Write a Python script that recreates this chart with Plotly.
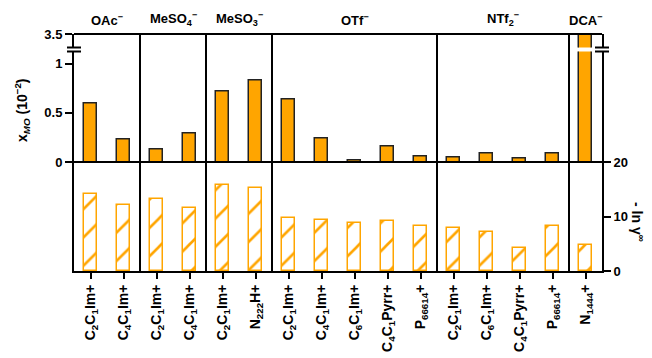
import plotly.graph_objects as go
import numpy as np

# ---- data ----
anions = ["OAc<sup>−</sup>", "MeSO<sub>4</sub><sup>−</sup>", "MeSO<sub>3</sub><sup>−</sup>",
          "OTf<sup>−</sup>", "NTf<sub>2</sub><sup>−</sup>", "DCA<sup>−</sup>"]
group_sizes = [2, 2, 2, 5, 4, 1]
cations = ["C<sub>2</sub>C<sub>1</sub>Im+", "C<sub>4</sub>C<sub>1</sub>Im+",
           "C<sub>2</sub>C<sub>1</sub>Im+", "C<sub>4</sub>C<sub>1</sub>Im+",
           "C<sub>2</sub>C<sub>1</sub>Im+", "N<sub>222</sub>H+",
           "C<sub>2</sub>C<sub>1</sub>Im+", "C<sub>4</sub>C<sub>1</sub>Im+",
           "C<sub>6</sub>C<sub>1</sub>Im+", "C<sub>4</sub>C<sub>1</sub>Pyrr+",
           "P<sub>66614</sub>+",
           "C<sub>2</sub>C<sub>1</sub>Im+", "C<sub>6</sub>C<sub>1</sub>Im+",
           "C<sub>4</sub>C<sub>1</sub>Pyrr+", "P<sub>66614</sub>+",
           "N<sub>1444</sub>+"]
x_mo = [0.59, 0.23, 0.125, 0.29, 0.72, 0.83, 0.64, 0.24, 0.015, 0.155, 0.055,
        0.045, 0.09, 0.04, 0.09, 3.5]
ln_gamma_inf = [14.1, 12.2, 13.2, 11.5, 15.7, 15.2, 9.7, 9.3, 8.8, 9.2, 8.3,
                7.95, 7.2, 4.2, 8.2, 4.8]
left_ticks = [0, 0.5, 1]
break_tick = [3.5]
right_ticks = [0, 10, 20]

# ---- style ----
ORANGE = "#FFA500"
FONT = "Arial, Liberation Sans, sans-serif"
W, H = 652, 358
OFF = 8  # page body offset
L, T = 74 - OFF, 34 - OFF
R = W - (602 - OFF)
B = H - (271 - OFF)
plot_h = H - T - B
plot_w = W - L - R
y_mid = 162 - OFF
bottom_px = 271 - OFF
d0 = (bottom_px - y_mid) / plot_h          # bottom panel top
gap_lo, gap_hi = 51.5 - OFF, 47.5 - OFF    # break gap in pixels
d1 = (bottom_px - gap_lo) / plot_h
d2 = (bottom_px - gap_hi) / plot_h
px_per_unit = 98.4
r2_top = (y_mid - gap_lo) / px_per_unit
r3_span = (gap_hi - T) / px_per_unit

xs = list(range(len(cations)))

fig = go.Figure()
bar_w = 0.42
fig.add_trace(go.Bar(x=xs, y=ln_gamma_inf, yaxis="y", xaxis="x", width=bar_w,
                     marker=dict(color="white", line=dict(color=ORANGE, width=1.5),
                                 pattern=dict(shape="/", fgcolor=ORANGE, bgcolor="white",
                                              size=20, solidity=0.13, fgopacity=1))))
for ya in ["y2", "y3"]:
    fig.add_trace(go.Bar(x=xs, y=x_mo, yaxis=ya, xaxis="x", width=bar_w,
                         marker=dict(color=ORANGE, line=dict(color="#222", width=1.5))))

tickfont = dict(family=FONT, size=13, color="black", weight="bold")
common = dict(showgrid=False, zeroline=False, showline=True, linecolor="black",
              linewidth=2, ticks="outside", tickcolor="black", tickwidth=2,
              ticklen=7, tickfont=tickfont, mirror=True, anchor="x")

fig.update_layout(
    width=W, height=H, margin=dict(l=L, r=R, t=T, b=B, autoexpand=False),
    paper_bgcolor="white", plot_bgcolor="white", showlegend=False,
    bargap=0,
    xaxis=dict(range=[-0.5, len(cations) - 0.5], tickvals=xs, ticktext=cations,
               tickangle=-90, showgrid=False, zeroline=False, showline=True,
               linecolor="black", linewidth=2, ticks="outside", tickcolor="black",
               tickwidth=2, ticklen=6,
               tickfont=dict(family=FONT, size=14, color="black", weight="bold"),
               anchor="y", automargin=False),
    yaxis=dict(domain=[0, d0], range=[0, 20], tickvals=right_ticks, side="right", **common),
    yaxis2=dict(domain=[d0, d1], range=[0, r2_top], tickvals=left_ticks,
                ticktext=["0", "0.5", "1"], side="left", **common),
    yaxis3=dict(domain=[d2, 1], range=[break_tick[0] - r3_span, break_tick[0]],
                tickvals=break_tick, ticktext=["3.5"], side="left", **common),
)

shapes = []
for yy in [1, d0]:
    shapes.append(dict(type="line", xref="paper", yref="paper", x0=0, x1=1, y0=yy, y1=yy,
                       line=dict(color="black", width=2)))
bounds = np.cumsum(group_sizes)[:-1] - 0.5
for b in bounds:
    shapes.append(dict(type="line", xref="x", yref="paper", x0=b, x1=b, y0=0, y1=1,
                       line=dict(color="black", width=2)))
for xa in [0, 1]:
    for yy in [d1, d2]:
        shapes.append(dict(type="line", xref="paper", yref="paper", xsizemode="pixel",
                           xanchor=xa, x0=-7, x1=7, y0=yy, y1=yy,
                           line=dict(color="black", width=2)))
fig.update_layout(shapes=shapes)

ann = []
start = 0
for name, n in zip(anions, group_sizes):
    ann.append(dict(x=start + (n - 1) / 2, y=1, xref="x", yref="paper", yanchor="bottom",
                    xanchor="center", yshift=4, text=name, showarrow=False,
                    font=dict(family=FONT, size=13, color="black", weight="bold")))
    start += n
ann.append(dict(x=(22 - OFF - L) / plot_w, y=(bottom_px - (110 - OFF)) / plot_h,
                xref="paper", yref="paper", xanchor="center", yanchor="middle",
                text="x<sub><i>MO</i></sub> (10<sup>−2</sup>)", textangle=-90, showarrow=False,
                font=dict(family=FONT, size=14, color="black", weight="bold")))
ann.append(dict(x=(638 - OFF - L) / plot_w, y=(bottom_px - (222 - OFF)) / plot_h,
                xref="paper", yref="paper", xanchor="center", yanchor="middle",
                text="- ln γ<sup>∞</sup>", textangle=90, showarrow=False,
                font=dict(family=FONT, size=14, color="black", weight="bold")))
fig.update_layout(annotations=ann)

fig.write_html("out.html")
